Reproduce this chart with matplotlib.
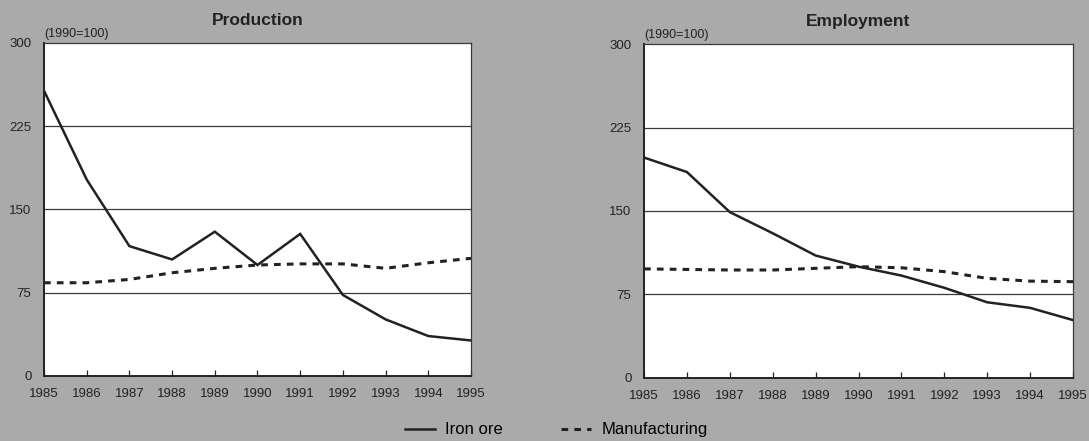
import matplotlib
matplotlib.use("Agg")
import matplotlib.pyplot as plt
from matplotlib.lines import Line2D

plt.rcParams['font.family'] = ['Liberation Sans', 'DejaVu Sans']

years = [1985, 1986, 1987, 1988, 1989, 1990, 1991, 1992, 1993, 1994, 1995]
prod_iron = [257, 177, 117, 105, 130, 100, 128, 73, 51, 36, 32]
prod_manuf = [84, 84, 87, 93, 97, 100, 101, 101, 97, 102, 106]
emp_iron = [198, 185, 149, 130, 110, 100, 92, 81, 68, 63, 52]
emp_manuf = [98, 97.5, 97, 97, 98.5, 100, 99, 95.5, 89.5, 87, 86.5]
yticks = [0, 75, 150, 225, 300]
titles = ["Production", "Employment"]
unit_label = "(1990=100)"
legend_labels = ["Iron ore", "Manufacturing"]

bg = '#aaaaaa'
ink = '#222222'

fig = plt.figure(figsize=(10.89, 4.41), dpi=100, facecolor=bg)
ax1 = fig.add_axes([0.0404, 0.1474, 0.3921, 0.7551])
ax2 = fig.add_axes([0.5914, 0.1429, 0.3939, 0.7573])

for ax, title, iron, manuf in [(ax1, titles[0], prod_iron, prod_manuf),
                               (ax2, titles[1], emp_iron, emp_manuf)]:
    ax.set_facecolor('white')
    ax.set_xlim(years[0], years[-1])
    ax.set_ylim(0, 300)
    for v in yticks[1:-1]:
        ax.axhline(v, color='#3a3a3a', lw=0.9, zorder=1)
    ax.plot(years, iron, color=ink, lw=1.8, solid_joinstyle='miter', zorder=3)
    ax.plot(years, manuf, color=ink, lw=2.2, ls=(0, (2.2, 2.0)), zorder=3)
    ax.set_xticks(years)
    ax.set_xticklabels([str(y) for y in years], fontsize=9.5, color=ink)
    ax.set_yticks(yticks)
    ax.set_yticklabels([str(v) for v in yticks], fontsize=9.5, color=ink)
    ax.tick_params(axis='x', direction='in', length=4, width=0.9, color=ink, pad=9)
    ax.tick_params(axis='y', length=0, pad=9)
    for s in ['left', 'bottom']:
        ax.spines[s].set_linewidth(1.4)
        ax.spines[s].set_color(ink)
    for s in ['top', 'right']:
        ax.spines[s].set_linewidth(0.9)
        ax.spines[s].set_color('#3a3a3a')
    ax.set_title(title, fontsize=12.5, fontweight='bold', color=ink, pad=13)
    ax.text(0.0, 1.01, unit_label, transform=ax.transAxes, fontsize=9,
            color=ink, ha='left', va='bottom')

handles = [Line2D([], [], color=ink, lw=1.8),
           Line2D([], [], color=ink, lw=2.2, ls=(0, (2.2, 2.0)))]
fig.legend(handles, legend_labels, loc='center', bbox_to_anchor=(0.511, 0.025),
           ncol=2, frameon=False, fontsize=12, handlelength=1.8,
           columnspacing=3.5, handletextpad=0.6)

fig.savefig('out.png', dpi=100, facecolor=bg)
